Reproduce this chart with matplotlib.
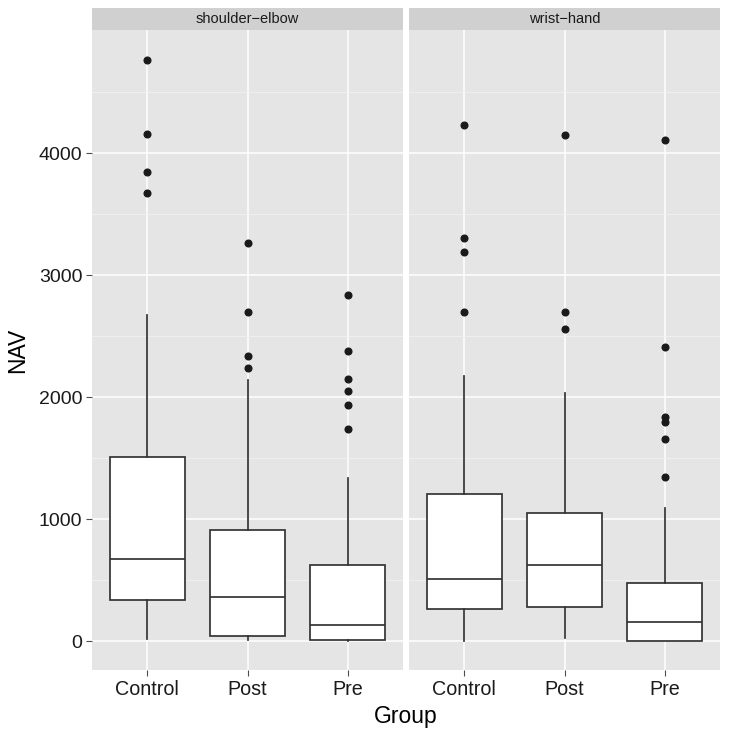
import numpy as np
import matplotlib.pyplot as plt

plt.rcParams['font.family'] = ['Liberation Sans', 'DejaVu Sans']

facets = ['shoulder\u2212elbow', 'wrist\u2212hand']
groups = ['Control', 'Post', 'Pre']

# box stats per facet, per group: whisker low, q1, median, q3, whisker high
whislo = [[22, 8, 0], [5, 27, 0]]
q1 = [[341, 47, 8], [262, 281, 5]]
med = [[671, 366, 134], [513, 628, 161]]
q3 = [[1514, 914, 625], [1211, 1053, 477]]
whishi = [[2673, 2144, 1340], [2174, 2038, 1094]]
fliers = [
    [[4767, 4154, 3846, 3672], [3262, 2695, 2340, 2237], [2836, 2376, 2150, 2054, 1937, 1737]],
    [[4228, 3306, 3191, 2695], [4146, 2695, 2561], [4108, 2408, 1835, 1795, 1661, 1350]],
]

W, H = 729, 737
fig = plt.figure(figsize=(W / 100, H / 100), dpi=100)

panel_x = [(92, 403), (409, 720)]
top, bottom = 30, 670
strip_top = 8

for k in range(2):
    x0, x1 = panel_x[k]
    ax = fig.add_axes([x0 / W, 1 - bottom / H, (x1 - x0) / W, (bottom - top) / H])
    ax.set_facecolor('#E5E5E5')
    for s in ax.spines.values():
        s.set_visible(False)

    stats = []
    for i in range(3):
        stats.append(dict(med=med[k][i], q1=q1[k][i], q3=q3[k][i],
                          whislo=whislo[k][i], whishi=whishi[k][i],
                          fliers=fliers[k][i]))
    line = dict(color='#333333', linewidth=1.25)
    ax.bxp(stats, positions=[1, 2, 3], widths=0.75, patch_artist=True,
           showcaps=False, manage_ticks=False,
           boxprops=dict(facecolor='white', edgecolor='#333333', linewidth=1.25),
           medianprops=line, whiskerprops=line,
           flierprops=dict(marker='o', markersize=4.8, markerfacecolor='#1a1a1a',
                           markeredgecolor='#1a1a1a'))

    ax.set_xlim(0.45, 3.55)
    ax.set_ylim(-235, 5010)
    ax.set_yticks([0, 1000, 2000, 3000, 4000])
    ax.set_yticks([500, 1500, 2500, 3500, 4500], minor=True)
    ax.set_xticks([1, 2, 3])
    ax.set_xticklabels(groups, fontsize=14.2, color='#1a1a1a')
    ax.grid(True, which='major', color='white', linewidth=1.1)
    ax.grid(True, which='minor', axis='y', color='#F2F2F2', linewidth=0.6)
    ax.set_axisbelow(True)
    ax.tick_params(axis='both', which='major', length=4, width=0.8, color='#4d4d4d', pad=3)
    ax.tick_params(axis='y', which='minor', length=0)
    if k == 0:
        ax.set_yticklabels(['0', '1000', '2000', '3000', '4000'], fontsize=14, color='#1a1a1a')
        ax.set_ylabel('NAV', fontsize=16.5, labelpad=7)
    else:
        ax.tick_params(axis='y', which='major', left=False, labelleft=False)

    sax = fig.add_axes([x0 / W, 1 - top / H, (x1 - x0) / W, (top - strip_top) / H])
    sax.set_facecolor('#D0D0D0')
    sax.set_xticks([])
    sax.set_yticks([])
    for s in sax.spines.values():
        s.set_visible(False)
    sax.text(0.5, 0.5, facets[k], ha='center', va='center', fontsize=10.5,
             color='#1a1a1a', transform=sax.transAxes)

fig.text((92 + 720) / 2 / W, 1 - 716 / H, 'Group', ha='center', va='center', fontsize=16.5)

fig.savefig('out.png', dpi=100)
